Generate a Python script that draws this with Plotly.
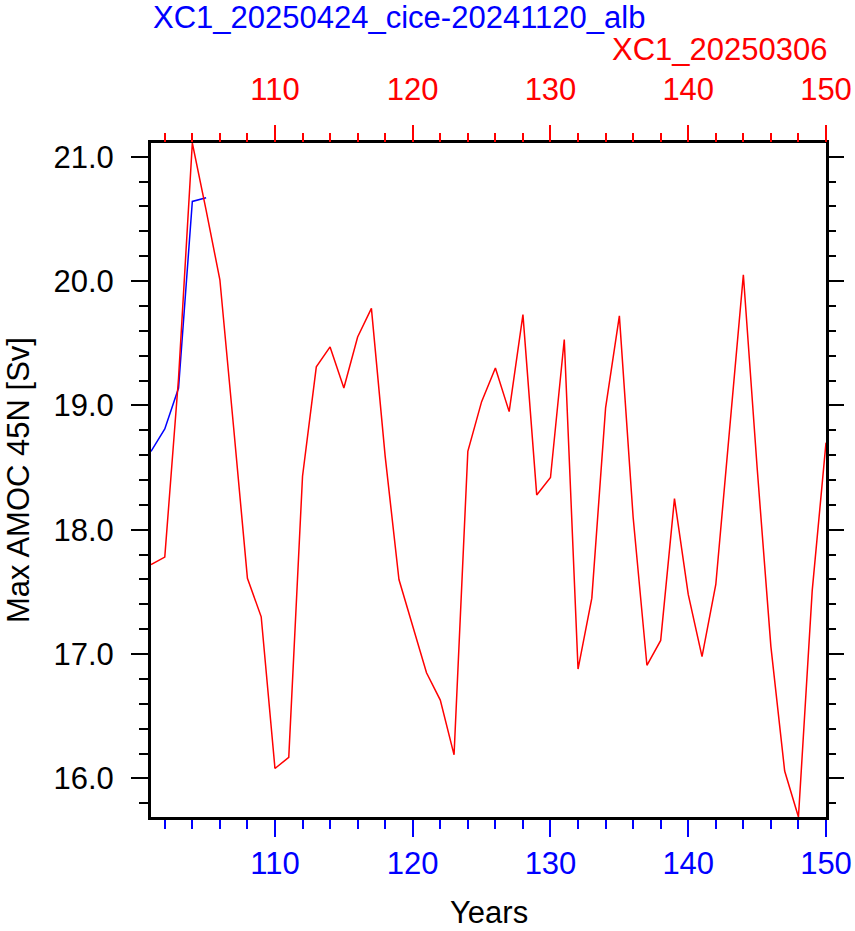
import plotly.graph_objects as go

# ---- data ----
years_red = list(range(101, 151))
amoc_red = [17.72, 17.78, 19.22, 21.11, 20.57, 20.01, 18.82, 17.61, 17.30, 16.08,
            16.17, 18.43, 19.31, 19.47, 19.14, 19.55, 19.78, 18.59, 17.60, 17.22,
            16.85, 16.63, 16.19, 18.63, 19.03, 19.30, 18.95, 19.73, 18.28, 18.42,
            19.53, 16.88, 17.45, 18.98, 19.72, 18.10, 16.91, 17.11, 18.25, 17.48,
            16.98, 17.56, 18.80, 20.05, 18.50, 17.06, 16.06, 15.69, 17.51, 18.70]
years_blue = [101, 102, 103, 104, 105]
amoc_blue = [18.63, 18.81, 19.14, 20.64, 20.67]

name_blue = "XC1_20250424_cice-20241120_alb"
name_red = "XC1_20250306"
x_title = "Years"
y_title = "Max AMOC 45N [Sv]"

FONT = "Liberation Sans"
FS = 31

xmin, xmax = min(years_red + years_blue), max(years_red + years_blue)
ymin, ymax = min(amoc_red + amoc_blue), max(amoc_red + amoc_blue)

fig = go.Figure()
fig.add_trace(go.Scatter(x=years_blue, y=amoc_blue, mode="lines",
                         line=dict(color="#0000ff", width=1.5),
                         xaxis="x", yaxis="y", showlegend=False))
fig.add_trace(go.Scatter(x=years_red, y=amoc_red, mode="lines",
                         line=dict(color="#ff0000", width=1.5),
                         xaxis="x2", yaxis="y2", showlegend=False))

xcommon = dict(range=[xmin, xmax], tickmode="linear", tick0=110, dtick=10,
               ticks="outside", ticklen=17, tickwidth=2, showgrid=False,
               zeroline=False, automargin=False)
ycommon = dict(range=[ymin, ymax], tickmode="linear", tick0=16, dtick=1,
               ticks="outside", ticklen=17, tickwidth=2, tickcolor="black",
               showgrid=False, zeroline=False, automargin=False,
               minor=dict(dtick=0.2, ticks="outside", ticklen=9, tickwidth=1.5,
                          tickcolor="black", showgrid=False))

fig.update_layout(
    width=855, height=931,
    margin=dict(l=151, r=29, t=143, b=114, pad=0, autoexpand=False),
    plot_bgcolor="white", paper_bgcolor="white",
    font=dict(family=FONT, size=FS, color="black"),
    xaxis=dict(**xcommon, side="bottom", tickcolor="#0000ff",
               tickfont=dict(color="#0000ff", size=FS, family=FONT),
               showline=True, linecolor="black", linewidth=3, mirror=True,
               ticklabelstandoff=0,
               minor=dict(dtick=2, tick0=102, ticks="outside", ticklen=9,
                          tickwidth=1.5, tickcolor="#0000ff", showgrid=False)),
    xaxis2=dict(**xcommon, side="top", overlaying="x", anchor="y2",
                tickcolor="#ff0000",
                tickfont=dict(color="#ff0000", size=FS, family=FONT),
                showline=False, ticklabelstandoff=13,
                minor=dict(dtick=2, tick0=102, ticks="outside", ticklen=9,
                           tickwidth=1.5, tickcolor="#ff0000", showgrid=False)),
    yaxis=dict(**ycommon, side="left", tickformat=".1f",
               showline=True, linecolor="black", linewidth=3, mirror=True,
               ticklabelstandoff=11),
    yaxis2=dict(**ycommon, side="right", overlaying="y", anchor="x2",
                showticklabels=False, showline=False),
    annotations=[
        dict(text=name_blue, xref="paper", yref="paper", x=0.0, y=1.1855,
             xanchor="left", yanchor="middle", showarrow=False,
             font=dict(color="#0000ff", size=FS, family=FONT)),
        dict(text=name_red, xref="paper", yref="paper", x=1.004, y=1.138,
             xanchor="right", yanchor="middle", showarrow=False,
             font=dict(color="#ff0000", size=FS, family=FONT)),
        dict(text=x_title, xref="paper", yref="paper", x=0.5, y=-0.141,
             xanchor="center", yanchor="middle", showarrow=False,
             font=dict(color="black", size=FS, family=FONT)),
        dict(text=y_title, xref="paper", yref="paper", x=-0.197, y=0.5,
             xanchor="center", yanchor="middle", showarrow=False, textangle=-90,
             font=dict(color="black", size=FS, family=FONT)),
    ],
)

fig.write_html("out.html")
